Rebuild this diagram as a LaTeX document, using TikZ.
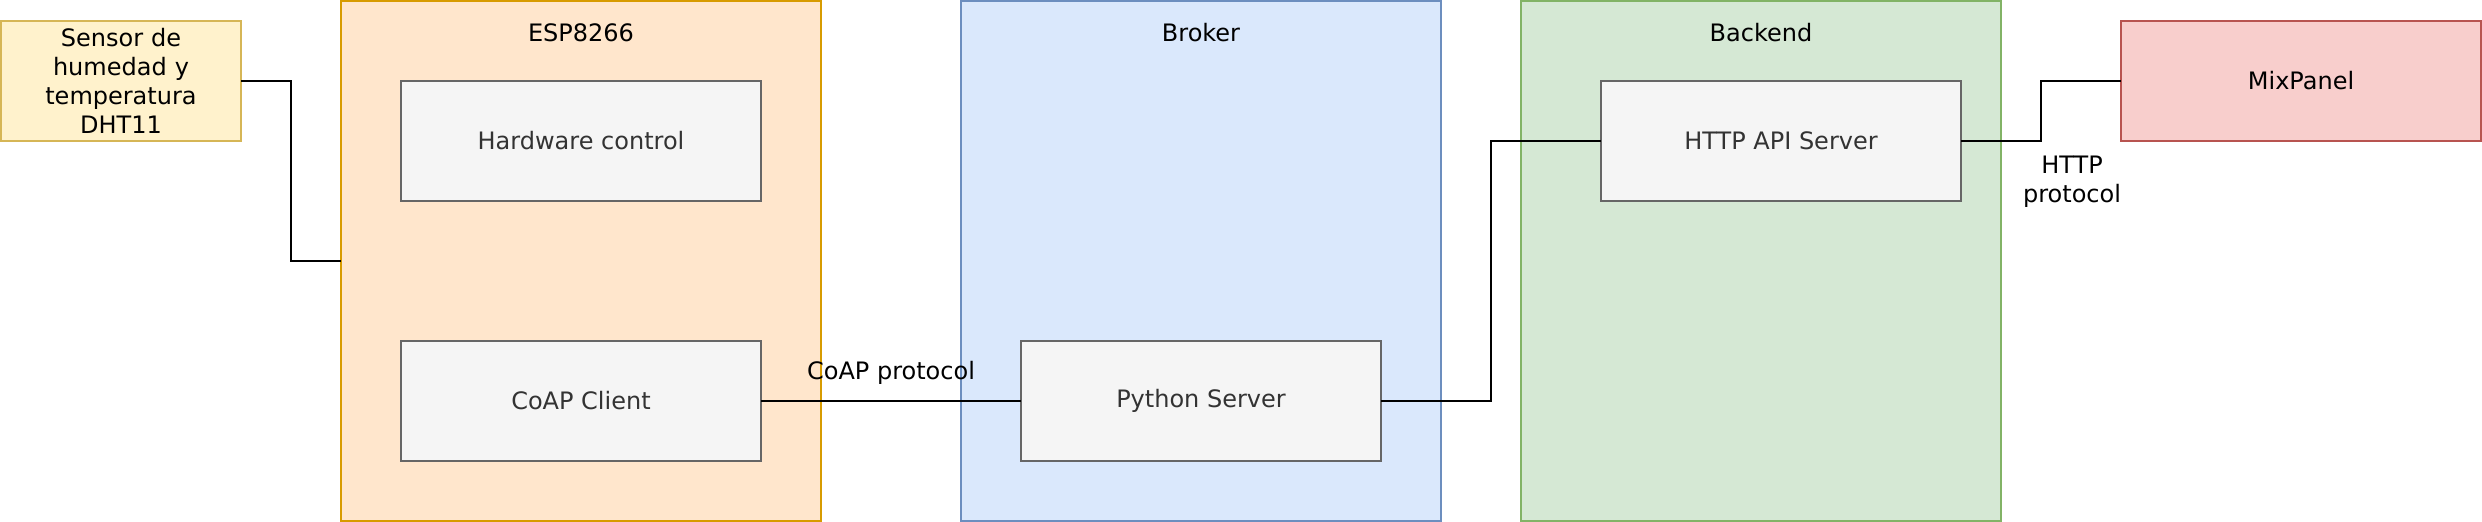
\documentclass[tikz,border=0pt]{standalone}
\usepackage{fontspec}
\setmainfont{DejaVu Sans}
\definecolor{sensorfill}{HTML}{FFF2CC}
\definecolor{sensordraw}{HTML}{D6B656}
\definecolor{espfill}{HTML}{FFE6CC}
\definecolor{espdraw}{HTML}{D79B00}
\definecolor{brokerfill}{HTML}{DAE8FC}
\definecolor{brokerdraw}{HTML}{6C8EBF}
\definecolor{backfill}{HTML}{D5E8D4}
\definecolor{backdraw}{HTML}{82B366}
\definecolor{mixfill}{HTML}{F8CECC}
\definecolor{mixdraw}{HTML}{B85450}
\definecolor{innerfill}{HTML}{F5F5F5}
\definecolor{innerdraw}{HTML}{666666}
\definecolor{innertext}{HTML}{333333}
\begin{document}
\begin{tikzpicture}[x=1pt,y=-1pt,
  every node/.style={font=\fontsize{12}{14.4}\selectfont},
  boxbase/.style={rectangle,line width=1pt,inner sep=0pt,outer sep=0pt,align=center},
  container/.style={boxbase,minimum width=240pt,minimum height=260pt},
  inner/.style={boxbase,fill=innerfill,draw=innerdraw,text=innertext,minimum width=180pt,minimum height=60pt},
  outerbox/.style={boxbase,minimum width=180pt,minimum height=60pt},
  link/.style={line width=1pt,draw=black},
  lbl/.style={inner sep=0pt,align=center,text=black}]
\useasboundingbox (0,0) rectangle (1241,261);
\begin{scope}[shift={(0.5,0.5)}]
% containers
\node[container,fill=espfill,draw=espdraw] (esp) at (290,130) {};
\node[container,fill=brokerfill,draw=brokerdraw] (broker) at (600,130) {};
\node[container,fill=backfill,draw=backdraw] (backend) at (880,130) {};
\node[lbl] (esptitle) at (290,16) {ESP8266};
\node[lbl] (brokertitle) at (600,16) {Broker};
\node[lbl] (backendtitle) at (880,16) {Backend};
% outer boxes
\node[boxbase,fill=sensorfill,draw=sensordraw,minimum width=120pt,minimum height=60pt,text width=116pt] (sensor) at (60,40) {Sensor de\\humedad y\\temperatura\\DHT11};
\node[outerbox,fill=mixfill,draw=mixdraw] (mix) at (1150,40) {MixPanel};
% inner boxes
\node[inner] (hw) at (290,70) {Hardware control};
\node[inner] (coap) at (290,200) {CoAP Client};
\node[inner] (py) at (600,200) {Python Server};
\node[inner] (api) at (890,70) {HTTP API Server};
% connectors
\draw[link] (sensor.east) -- (145,40) |- (esp.west);
\draw[link] (coap.east) -- (py.west);
\draw[link] (py.east) -- (745,200) |- (api.west);
\draw[link] (api.east) -- (1020,70) |- (mix.west);
% labels
\node[lbl] (coaplbl) at (445,186) {CoAP protocol};
\node[lbl] (httplbl) at (1035.5,90.5) {HTTP\\protocol};
\end{scope}
\end{tikzpicture}
\end{document}
